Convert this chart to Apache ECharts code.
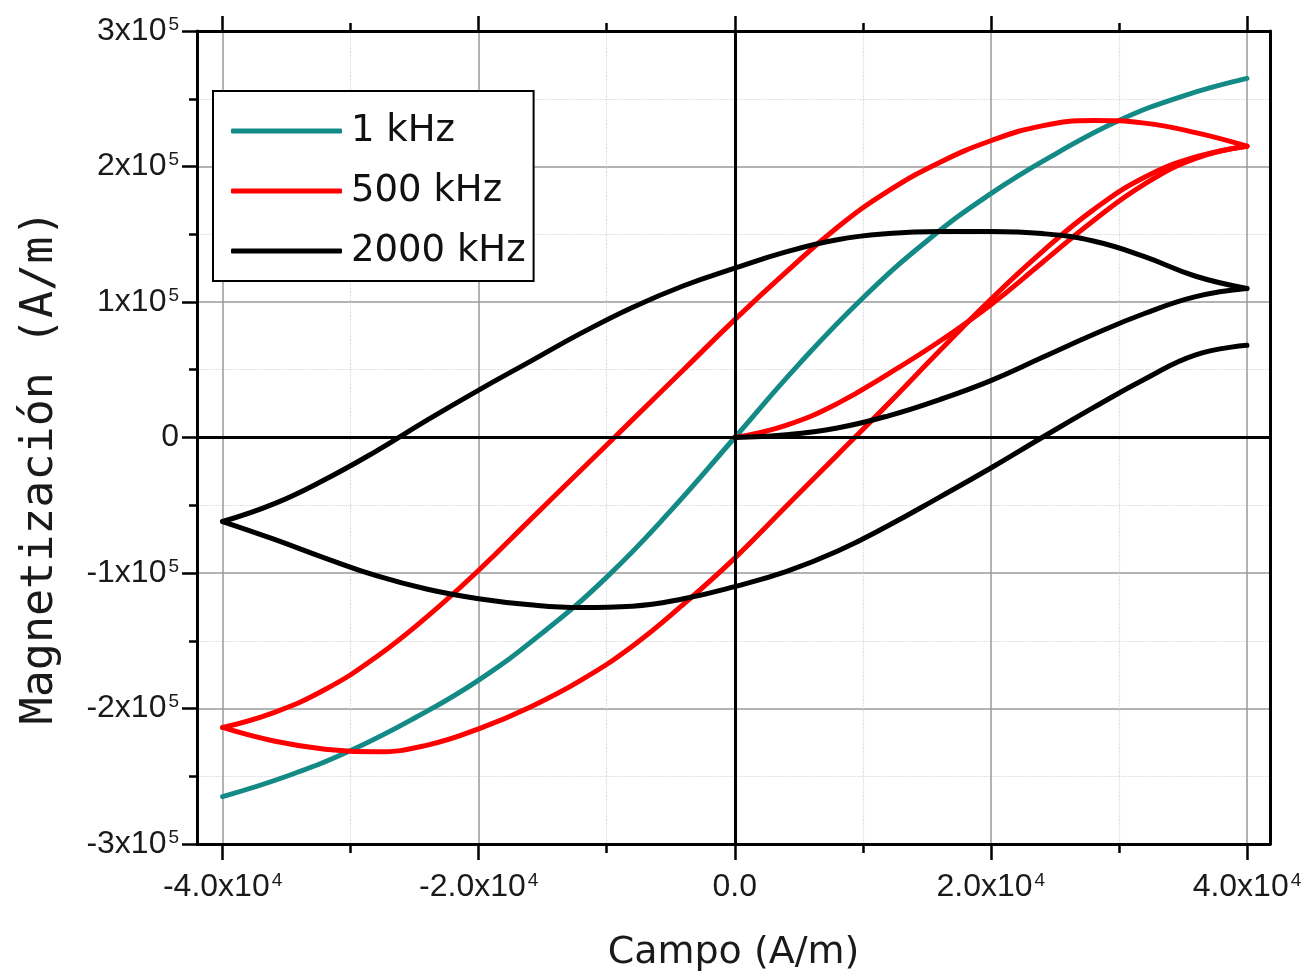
<!DOCTYPE html>
<html>
<head>
<meta charset="utf-8">
<script src="https://cdn.jsdelivr.net/npm/echarts@6/dist/echarts.min.js"></script>
<style>
  html, body { margin: 0; padding: 0; background: #fff; }
  #chart { width: 1305px; height: 977px; }
</style>
</head>
<body>
<div id="chart"></div>
<script>
// ticks (A/m)
const majorX = [-40000, -20000, 0, 20000, 40000];
const minorX = [-30000, -10000, 10000, 30000];

// 1 kHz : sin histéresis
const h1k = [-40000, -35000, -30000, -25000, -20000, -15000, -10000, -5000, 0, 5000, 10000, 15000, 20000, 25000, 30000, 35000, 40000];
const m1k = [-265000, -250000, -231000, -207000, -179000, -144000, -103000, -54000, 0, 54000, 103000, 145000, 180000, 209000, 234000, 252000, 265000];

// 500 kHz : curva inicial + rama de bajada + rama de subida
const h500Ini = [0, 4000, 8000, 12000, 16000, 20000, 24000, 28000, 32000, 36000, 40000];
const m500Ini = [0, 9000, 25000, 47000, 71000, 98000, 129000, 160000, 187000, 206000, 215000];
const h500Down = [40000, 36000, 32000, 28000, 24000, 20000, 16000, 12000, 8000, 4000, 0, -4000, -8000, -12000, -16000, -20000, -24000, -28000, -32000, -36000, -40000];
const m500Down = [215000, 225000, 232000, 234000, 230000, 219000, 203000, 182000, 155000, 122000, 87000, 50000, 13000, -24000, -61000, -98000, -132000, -162000, -186000, -203000, -214000];
const h500Up = [-40000, -36000, -32000, -28000, -24000, -20000, -16000, -12000, -8000, -4000, 0, 4000, 8000, 12000, 16000, 20000, 24000, 28000, 32000, 36000, 40000];
const m500Up = [-214000, -224000, -230000, -232000, -227000, -215000, -199000, -179000, -154000, -123000, -89000, -51000, -13000, 25000, 64000, 102000, 137000, 168000, 192000, 207000, 215000];

// 2000 kHz
const h2000Ini = [0, 4000, 8000, 12000, 16000, 20000, 24000, 28000, 32000, 36000, 40000];
const m2000Ini = [0, 2000, 7000, 16000, 28000, 42000, 59000, 76000, 91500, 104000, 110000];
const h2000Down = [40000, 36000, 32000, 28000, 24000, 20000, 16000, 12000, 8000, 4000, 0, -4000, -8000, -12000, -16000, -20000, -24000, -28000, -32000, -36000, -40000];
const m2000Down = [110000, 119000, 133500, 145000, 150500, 152000, 152000, 150500, 146000, 137000, 125000, 112000, 96000, 77000, 56000, 35000, 13000, -10000, -31000, -49000, -62000];
const h2000Up = [-40000, -36000, -32000, -28000, -24000, -20000, -16000, -12000, -8000, -4000, 0, 4000, 8000, 12000, 16000, 20000, 24000, 28000, 32000, 36000, 40000];
const m2000Up = [-62000, -75000, -89000, -102000, -112000, -119000, -123500, -125500, -124500, -119000, -110000, -99000, -84000, -65000, -44000, -22500, 0, 22000, 43000, 61000, 68000];

const names = ['1 kHz', '500 kHz', '2000 kHz'];
const colors = ['#138a86', '#ff0000', '#000000'];

const zip = (xs, ys) => xs.map((x, i) => [x, ys[i]]);

const chart = echarts.init(document.getElementById('chart'));

const labelFont = 'Liberation Sans';
const richLabel = {
    b: { fontFamily: labelFont, fontSize: 32, color: '#1a1a1a' },
    s: { fontFamily: labelFont, fontSize: 19, color: '#1a1a1a', verticalAlign: 'top', padding: [0, 0, 0, 2] }
};

const frameLine = { show: true, onZero: false, lineStyle: { color: '#000', width: 3 } };
const gridMajor = { show: true, lineStyle: { color: '#9a9a9a', width: 1.5 } };
const gridMinor = { show: true, lineStyle: { color: '#d6d6d6', width: 1.2, type: 'dotted' } };

// una serie por rama, mismo nombre -> una entrada de leyenda
const lineSeries = (name, color, xs, ys) => ({
    name: name,
    type: 'line',
    data: zip(xs, ys),
    symbol: 'none',
    smooth: 0.45,
    itemStyle: { color: color },
    lineStyle: { color: color, width: 5, cap: 'round', join: 'round' },
    emphasis: { disabled: true }
});

const option = {
    animation: false,
    backgroundColor: '#fff',
    grid: { left: 197, right: 35, top: 31, bottom: 132 },
    legend: {
        data: names,
        orient: 'vertical',
        left: 213,
        top: 91,
        backgroundColor: '#fff',
        borderColor: '#000',
        borderWidth: 2,
        padding: [20, 8, 10, 18],
        itemGap: 20,
        itemWidth: 111,
        itemHeight: 5,
        icon: 'roundRect',
        textStyle: { fontFamily: 'DejaVu Sans', fontSize: 37, color: '#111', lineHeight: 40, padding: [0, 0, 0, 4] }
    },
    xAxis: [
        {
            type: 'value', position: 'bottom', min: -42000, max: 41800,
            axisLine: frameLine,
            axisTick: { show: true, customValues: majorX, length: 16, lineStyle: { color: '#000', width: 2.5 } },
            axisLabel: {
                customValues: majorX,
                margin: 27,
                formatter: v => v === 0 ? '{b|0.0}' : '{b|' + (v / 10000).toFixed(1) + 'x10}{s|4}',
                rich: richLabel
            },
            splitLine: gridMajor,
            name: 'Campo (A/m)',
            nameLocation: 'middle',
            nameGap: 90,
            nameTextStyle: { fontFamily: 'DejaVu Sans', fontSize: 38, color: '#1a1a1a' }
        },
        {
            type: 'value', position: 'bottom', min: -42000, max: 41800,
            axisLine: { show: false, onZero: false },
            axisTick: { show: true, customValues: minorX, length: 9, lineStyle: { color: '#000', width: 2.5 } },
            axisLabel: { show: false },
            splitLine: gridMinor
        },
        {
            type: 'value', position: 'top', min: -42000, max: 41800,
            axisLine: frameLine,
            axisTick: { show: true, customValues: majorX, length: 15, lineStyle: { color: '#000', width: 2.5 } },
            axisLabel: { show: false },
            splitLine: { show: false }
        },
        {
            type: 'value', position: 'top', min: -42000, max: 41800,
            axisLine: { show: false, onZero: false },
            axisTick: { show: true, customValues: minorX, length: 8, lineStyle: { color: '#000', width: 2.5 } },
            axisLabel: { show: false },
            splitLine: { show: false }
        }
    ],
    yAxis: [
        {
            type: 'value', position: 'left', min: -300000, max: 300000, interval: 100000,
            axisLine: frameLine,
            axisTick: { show: true, length: 15, lineStyle: { color: '#000', width: 2.5 } },
            minorTick: { show: true, splitNumber: 2, length: 8, lineStyle: { color: '#000', width: 2.5 } },
            axisLabel: {
                margin: 18,
                formatter: v => v === 0 ? '{b|0}' : '{b|' + (v / 100000) + 'x10}{s|5}',
                rich: richLabel
            },
            splitLine: gridMajor,
            minorSplitLine: gridMinor
        },
        {
            type: 'value', position: 'right', min: -300000, max: 300000, interval: 100000,
            axisLine: frameLine,
            axisTick: { show: false },
            axisLabel: { show: false },
            splitLine: { show: false }
        }
    ],
    graphic: [
        {
            type: 'text',
            x: 40,
            y: 467,
            rotation: Math.PI / 2,
            style: {
                text: 'Magnetización (A/m)',
                font: '45px "DejaVu Sans Mono"',
                fill: '#1a1a1a',
                align: 'center',
                verticalAlign: 'middle'
            }
        }
    ],
    series: [
        {
            // ejes en cero
            type: 'line',
            data: [],
            silent: true,
            z: 1,
            markLine: {
                silent: true,
                symbol: ['none', 'none'],
                label: { show: false },
                lineStyle: { color: '#000', width: 3, type: 'solid' },
                data: [{ xAxis: 0 }, { yAxis: 0 }]
            }
        },
        lineSeries(names[0], colors[0], h1k, m1k),
        lineSeries(names[1], colors[1], h500Ini, m500Ini),
        lineSeries(names[1], colors[1], h500Down, m500Down),
        lineSeries(names[1], colors[1], h500Up, m500Up),
        lineSeries(names[2], colors[2], h2000Ini, m2000Ini),
        lineSeries(names[2], colors[2], h2000Down, m2000Down),
        lineSeries(names[2], colors[2], h2000Up, m2000Up)
    ]
};

chart.setOption(option);
</script>
</body>
</html>
